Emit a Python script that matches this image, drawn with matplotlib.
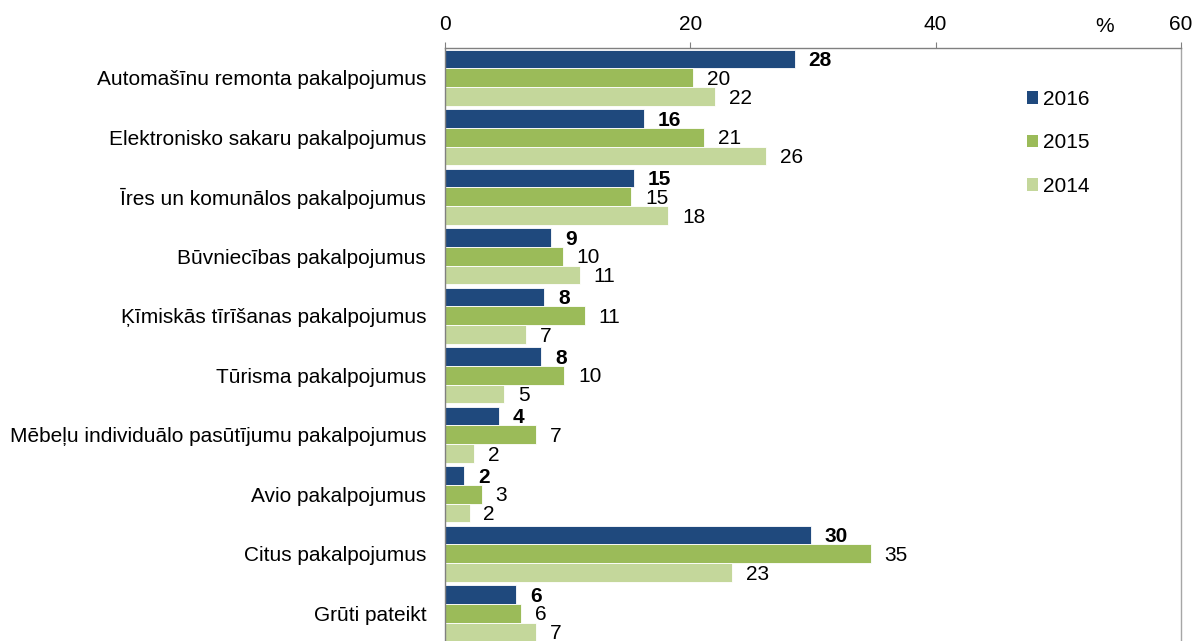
import matplotlib
matplotlib.use("Agg")
import matplotlib.pyplot as plt
from matplotlib.patches import Patch
import numpy as np

plt.rcParams["font.family"] = ["Liberation Sans", "DejaVu Sans"]
plt.rcParams["font.size"] = 15

categories = [
    "Automašīnu remonta pakalpojumus",
    "Elektronisko sakaru pakalpojumus",
    "Īres un komunālos pakalpojumus",
    "Būvniecības pakalpojumus",
    "Ķīmiskās tīrīšanas pakalpojumus",
    "Tūrisma pakalpojumus",
    "Mēbeļu individuālo pasūtījumu pakalpojumus",
    "Avio pakalpojumus",
    "Citus pakalpojumus",
    "Grūti pateikt",
]
years = ["2016", "2015", "2014"]
v2016 = [28.5, 16.2, 15.4, 8.65, 8.1, 7.85, 4.4, 1.55, 29.8, 5.8]
v2015 = [20.2, 21.1, 15.2, 9.6, 11.4, 9.7, 7.45, 3.0, 34.7, 6.2]
v2014 = [22.0, 26.2, 18.2, 11.0, 6.6, 4.8, 2.4, 2.0, 23.4, 7.4]
series = [v2016, v2015, v2014]
colors = ["#1f497d", "#9bbb59", "#c4d79b"]

W, H = 1195, 641
fig = plt.figure(figsize=(W / 100, H / 100), dpi=100)
ax = fig.add_axes([445 / W, -2 / H, (1181 - 445) / W, (643 - 48) / H])

y = np.arange(len(categories))
h = 0.314
for i, (vals, c) in enumerate(zip(series, colors)):
    pos = y + (i - 1) * h
    ax.barh(pos, vals, height=h, color=c, edgecolor="white", linewidth=0.6)
    for p, v in zip(pos, vals):
        ax.annotate(f"{round(v):d}", xy=(v, p), xytext=(10, -1.2),
                    textcoords="offset points", ha="left", va="center",
                    fontweight="bold" if i == 0 else "normal")

ax.set_xlim(0, 60)
ax.set_ylim(len(categories) - 0.5, -0.5)
ax.set_xticks([0, 20, 40, 60])
ax.xaxis.tick_top()
ax.tick_params(axis="x", direction="out", length=4.3, width=0.8,
               color="#808080", pad=5.5)
ax.set_yticks(y)
ax.set_yticklabels(categories)
ax.tick_params(axis="y", length=0, pad=13.5)

ax.spines["bottom"].set_visible(False)
ax.spines["top"].set_color("#808080")
ax.spines["left"].set_color("#808080")
ax.spines["right"].set_color("#a6a6a6")
for s in ax.spines.values():
    s.set_linewidth(1.0)

fig.text(1105 / W, 1 - 26 / H, "%", ha="center", va="center")

handles = [Patch(facecolor=c, edgecolor="none") for c in colors]
ax.legend(handles, years, loc="upper left",
          bbox_to_anchor=(1027 / W, 1 - 90 / H), bbox_transform=fig.transFigure,
          frameon=False, borderpad=0, borderaxespad=0,
          handlelength=0.55, handleheight=0.55, handletextpad=0.2,
          labelspacing=1.17)

fig.savefig("out.png", dpi=100)
